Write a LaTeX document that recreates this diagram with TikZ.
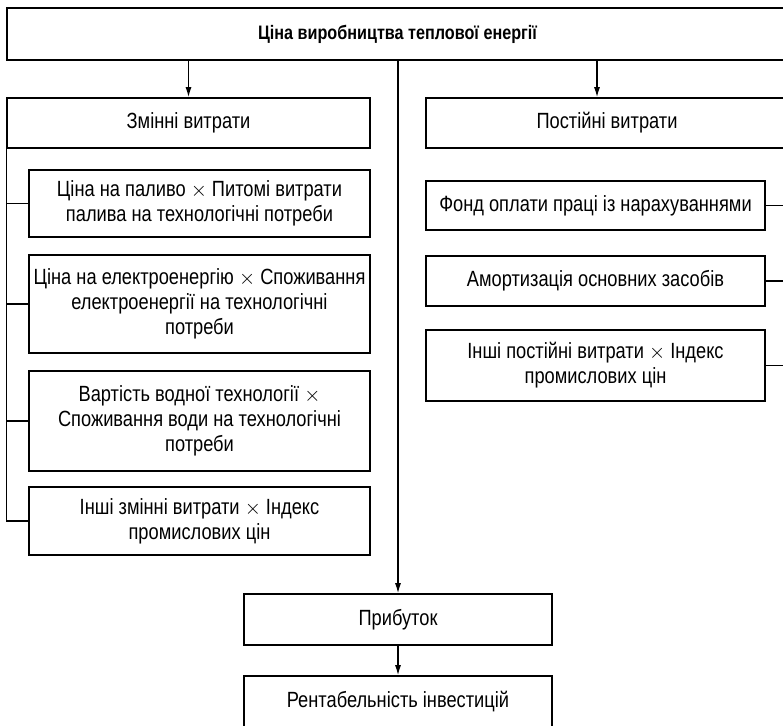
\documentclass[tikz,border=0pt]{standalone}
\usepackage{fontspec}
\setmainfont{Liberation Sans}[FakeStretch=0.83]
\usetikzlibrary{arrows.meta}

\begin{document}
\begin{tikzpicture}[x=1pt,y=-1pt,
  box/.style={draw,line width=1.7pt,align=center,inner sep=0pt,
    font=\fontsize{22}{25}\selectfont},
  arr/.style={line width=1.2pt,-{Latex[length=10pt,width=6pt]}},
  ln/.style={line width=1.2pt}]

\useasboundingbox (0,0) rectangle (783,725);
\clip (0,0) rectangle (783,725);

\node[box,minimum width=781pt,minimum height=52pt,
  font=\fontsize{19.5}{22}\selectfont\bfseries] (top) at (397.5,34)
  {Ціна виробництва теплової енергії};

\node[box,minimum width=363pt,minimum height=50pt] (var) at (188.5,123) {Змінні витрати};
\node[box,minimum width=362pt,minimum height=50pt] (fix) at (607,123) {Постійні витрати};

\node[box,minimum width=341pt,minimum height=67pt] (v1) at (199.5,203.5)
  {Ціна на паливо $\times$ Питомі витрати\\палива на технологічні потреби};
\node[box,minimum width=341pt,minimum height=98pt] (v2) at (199.5,304)
  {Ціна на електроенергію $\times$ Споживання\\електроенергії на технологічні\\потреби};
\node[box,minimum width=341pt,minimum height=100pt] (v3) at (199.5,421)
  {Вартість водної технології $\times$\\Споживання води на технологічні\\потреби};
\node[box,minimum width=341pt,minimum height=68pt] (v4) at (199.5,521)
  {Інші змінні витрати $\times$ Індекс\\промислових цін};

\node[box,minimum width=339pt,minimum height=49pt] (f1) at (595.5,205.5)
  {Фонд оплати праці із нарахуваннями};
\node[box,minimum width=339pt,minimum height=50pt] (f2) at (595.5,281)
  {Амортизація основних засобів};
\node[box,minimum width=339pt,minimum height=71pt] (f3) at (595.5,365.5)
  {Інші постійні витрати $\times$ Індекс\\промислових цін};

\node[box,minimum width=308pt,minimum height=51pt] (profit) at (398,619.5) {Прибуток};
\node[box,minimum width=308pt,minimum height=52pt] (roi) at (398,702) {Рентабельність інвестицій};

% arrows from the top box
\draw[arr] (top.south -| var.north) -- (var.north);
\draw[arr] ([xshift=-10pt]fix.north |- top.south) -- ([xshift=-10pt]fix.north);
\draw[arr] (top.south -| profit.north) -- (profit.north);
\draw[arr] (profit) -- (roi);

% brackets
\draw[ln] (var.south west) |- (v4.west);
\foreach \n in {v1,v2,v3}
  \draw[ln] (var.south west |- \n.west) -- (\n.west);
\draw[ln] (fix.south east) |- (f3.east);
\foreach \n in {f1,f2}
  \draw[ln] (\n.east -| fix.south east) -- (\n.east);

\end{tikzpicture}
\end{document}
